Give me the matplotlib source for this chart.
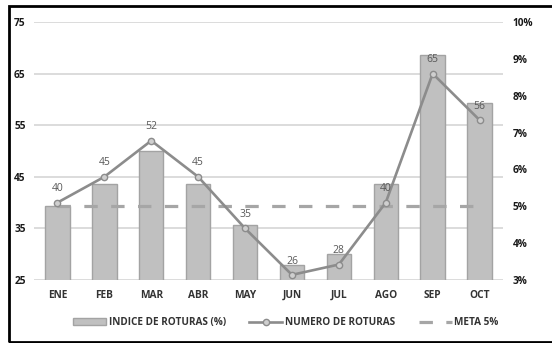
import numpy as np
import matplotlib
matplotlib.use("Agg")
import matplotlib.pyplot as plt
from matplotlib.patches import Rectangle
from matplotlib.ticker import FuncFormatter

plt.rcParams['font.family'] = ['Open Sans', 'DejaVu Sans']

# monthly data
meses = ['ENE', 'FEB', 'MAR', 'ABR', 'MAY', 'JUN', 'JUL', 'AGO', 'SEP', 'OCT']
indice_roturas = [5.0, 5.6, 6.5, 5.6, 4.5, 3.4, 3.7, 5.6, 9.1, 7.8]   # % (right axis)
numero_roturas = [40, 45, 52, 45, 35, 26, 28, 40, 65, 56]            # count (left axis)
meta = 5.0                                                           # % target

left_ticks = [25, 35, 45, 55, 65, 75]
right_ticks = [3, 4, 5, 6, 7, 8, 9, 10]

W, H = 552, 343
fig = plt.figure(figsize=(W / 100, H / 100), dpi=100)
pos = [34 / W, 1 - 280 / H, (503 - 34) / W, (280 - 22) / H]

x = np.arange(len(meses))

# base axis: left scale + gridlines
ax = fig.add_axes(pos)
ax.set_xlim(-0.5, len(meses) - 0.5)
ax.set_ylim(left_ticks[0], left_ticks[-1])
ax.set_yticks(left_ticks)
ax.grid(axis='y', color='#d9d9d9', linewidth=1.3)
ax.set_axisbelow(True)
for s in ax.spines.values():
    s.set_visible(False)
ax.tick_params(axis='y', length=0, pad=6, labelsize=7.3, labelcolor='#1a1a1a')
ax.tick_params(axis='x', length=0, pad=7, labelsize=7.3, labelcolor='#333333')
ax.set_xticks(x)
ax.set_xticklabels(meses, fontweight='bold')
for t in ax.get_yticklabels():
    t.set_fontweight('bold')

# bars and target on right scale
ax2 = ax.twinx()
ax2.set_ylim(right_ticks[0], right_ticks[-1])
ax2.set_yticks(right_ticks)
ax2.yaxis.set_major_formatter(FuncFormatter(lambda v, p: f'{v:.0f}%'))
ax2.tick_params(axis='y', length=0, pad=7, labelsize=7.3, labelcolor='#1a1a1a')
for t in ax2.get_yticklabels():
    t.set_fontweight('bold')
for s in ax2.spines.values():
    s.set_visible(False)
bars = ax2.bar(x, indice_roturas, width=0.52, bottom=0, color='#c0c0c0',
               edgecolor='#a3a3a3', linewidth=1.0, label='INDICE DE ROTURAS (%)')
meta_line, = ax2.plot(x, [meta] * len(x), color='#a6a6a6', linewidth=2.3,
                      dashes=(4.2, 4.2), label='META 5%')

# count line on top, left scale
ax3 = ax.twinx()
ax3.set_ylim(ax.get_ylim())
ax3.set_axis_off()
num_line, = ax3.plot(x, numero_roturas, color='#8c8c8c', linewidth=1.9,
                     marker='o', markersize=4.5, markerfacecolor='#cfcfcf',
                     markeredgecolor='#8c8c8c', markeredgewidth=1.0,
                     label='NUMERO DE ROTURAS')
for xi, v in zip(x, numero_roturas):
    ax3.annotate(str(v), (xi, v), xytext=(0, 6), textcoords='offset points',
                 ha='center', va='bottom', fontsize=7.5, color='#595959')

fig.legend([bars, num_line, meta_line],
           ['INDICE DE ROTURAS (%)', 'NUMERO DE ROTURAS', 'META 5%'],
           loc='center', bbox_to_anchor=(286 / W, 1 - 322.7 / H), ncol=3,
           frameon=False, handlelength=3.3, handletextpad=0.3,
           columnspacing=2.3, prop={'weight': 'bold', 'size': 7.2})
for t in fig.legends[0].get_texts():
    t.set_color('#333333')

# outer frame
fig.patches.append(Rectangle((8.5 / W, 1.5 / H), 1.2, (335.5) / H,
                             transform=fig.transFigure, fill=False,
                             edgecolor='black', linewidth=2.0, clip_on=False))

fig.savefig('out.png', dpi=100)
